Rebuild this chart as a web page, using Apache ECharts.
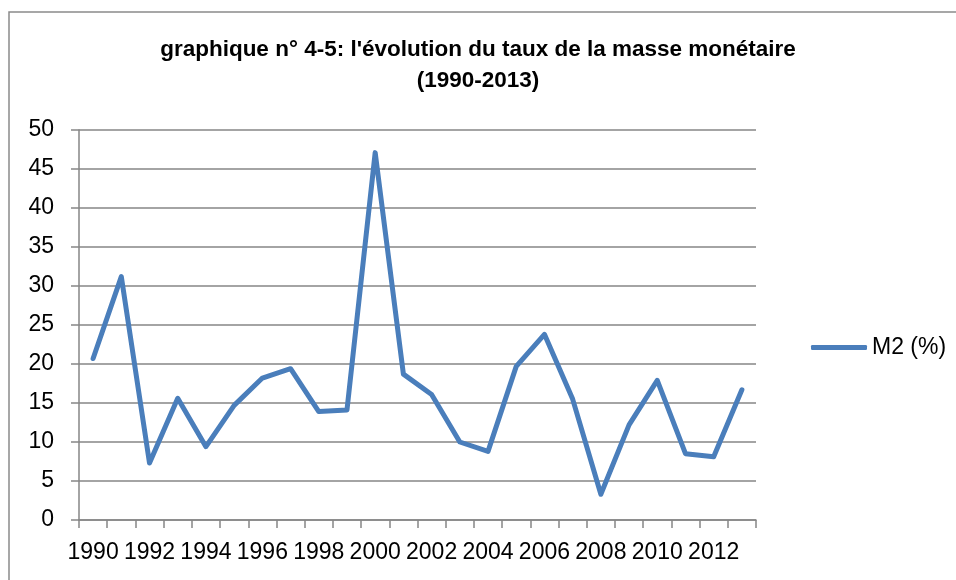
<!DOCTYPE html>
<html>
<head>
<meta charset="utf-8">
<script src="https://cdn.jsdelivr.net/npm/echarts@6/dist/echarts.min.js"></script>
<style>
  html, body { margin: 0; padding: 0; background: #fff; }
  #chart { width: 956px; height: 580px; }
</style>
</head>
<body>
<div id="chart"></div>
<script>
// data
const years = ['1990', '1991', '1992', '1993', '1994', '1995', '1996', '1997', '1998', '1999', '2000', '2001',
  '2002', '2003', '2004', '2005', '2006', '2007', '2008', '2009', '2010', '2011', '2012', '2013'];
const m2 = [20.7, 31.2, 7.3, 15.6, 9.4, 14.7, 18.2, 19.4, 13.9, 14.1, 47.1, 18.7,
  16.1, 10.0, 8.8, 19.7, 23.8, 15.5, 3.3, 12.2, 17.9, 8.5, 8.1, 16.7];
const seriesName = 'M2 (%)';
const titleText = "graphique n° 4-5: l'évolution du taux de la masse monétaire\n(1990-2013)";

const font = '"Liberation Sans", Arial, sans-serif';
const chart = echarts.init(document.getElementById('chart'));

chart.setOption({
  animation: false,
  backgroundColor: '#fff',
  graphic: [{
    type: 'rect',
    shape: { x: 9, y: 12, width: 960, height: 580 },
    style: { fill: 'none', stroke: '#8a8a8a', lineWidth: 1.5 },
    silent: true
  }],
  title: {
    text: titleText,
    left: 'center',
    top: 29,
    textStyle: {
      fontFamily: font,
      fontWeight: 'bold',
      fontSize: 22.5,
      lineHeight: 31,
      color: '#000'
    }
  },
  legend: {
    data: [{ name: seriesName, icon: 'roundRect' }],
    left: 806,
    top: 331,
    itemWidth: 56,
    itemHeight: 5,
    itemGap: 4,
    textStyle: { fontFamily: font, fontSize: 23, color: '#000' }
  },
  grid: { left: 79, right: 200, top: 130, bottom: 60 },
  xAxis: {
    type: 'category',
    data: years,
    boundaryGap: true,
    axisLine: { lineStyle: { color: '#868686', width: 1.5 } },
    axisTick: { show: true, length: 8, interval: 0, lineStyle: { color: '#868686', width: 1.5 } },
    axisLabel: {
      interval: 1,
      margin: 21,
      fontFamily: font,
      fontSize: 23,
      color: '#000'
    }
  },
  yAxis: {
    type: 'value',
    min: 0,
    max: 50,
    interval: 5,
    axisLine: { show: true, lineStyle: { color: '#868686', width: 1.5 } },
    axisTick: { show: true, length: 8, lineStyle: { color: '#868686', width: 1.5 } },
    axisLabel: { margin: 25, fontFamily: font, fontSize: 23, color: '#000' },
    splitLine: { lineStyle: { color: '#868686', width: 1.5 } }
  },
  series: [{
    name: seriesName,
    type: 'line',
    data: m2,
    symbol: 'none',
    lineStyle: { color: '#4A7EBB', width: 5, cap: 'round', join: 'round' },
    itemStyle: { color: '#4A7EBB' }
  }]
});
</script>
</body>
</html>
